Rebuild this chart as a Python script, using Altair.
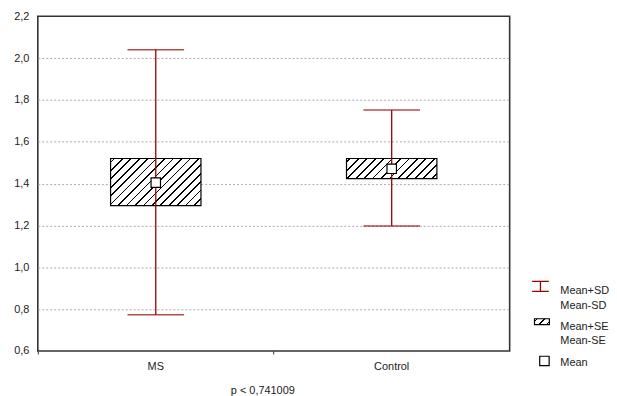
import altair as alt
import pandas as pd

groups = ["MS", "Control"]
means = [1.405, 1.471]
se_low = [1.295, 1.424]
se_high = [1.52, 1.52]
sd_low = [0.773, 1.197]
sd_high = [2.04, 1.752]
y_ticks = [0.6, 0.8, 1.0, 1.2, 1.4, 1.6, 1.8, 2.0, 2.2]
legend_labels = ["Mean+SD\nMean-SD", "Mean+SE\nMean-SE", "Mean"]
x_title = "p < 0,741009"

W, H = 475, 337
Y0, Y1 = 0.6, 2.2
BOX_W = 91
RED = "#990000"
FONT = "Liberation Sans"

df = pd.DataFrame({"group": groups, "mean": means, "se_low": se_low,
                   "se_high": se_high, "sd_low": sd_low, "sd_high": sd_high})


def hatch(w, h, p=8.5, lw=1.7, phase=3.0):
    r = h / w
    a = (1 + r) / (1 + r * r)
    total = w + h
    stops = [alt.GradientStop(offset=0, color="white")]
    k = 0
    while True:
        s = (k * p + phase) / total
        e = s + lw / total
        if e >= 1:
            break
        stops += [alt.GradientStop(offset=s, color="white"),
                  alt.GradientStop(offset=s, color="black"),
                  alt.GradientStop(offset=e, color="black"),
                  alt.GradientStop(offset=e, color="white")]
        k += 1
    stops.append(alt.GradientStop(offset=1, color="white"))
    return alt.LinearGradient(gradient="linear", stops=stops,
                              x1=0, y1=0, x2=a, y2=a * r)


xenc = alt.X("group:N", sort=groups,
             scale=alt.Scale(paddingInner=0, paddingOuter=0),
             axis=alt.Axis(title=x_title, labelAngle=0, bandPosition=0,
                           domain=False, ticks=True, tickSize=3, tickColor="#333",
                           labelPadding=7, gridDash=[2, 2], gridColor="#aaa",
                           gridOpacity={"condition": {"test": "datum.value == 'MS'", "value": 0}, "value": 1},
                           titleX=226, titleY=40, titleBaseline="middle",
                           titleFontWeight="normal"))
yscale = alt.Scale(domain=[Y0, Y1], nice=False, zero=False)
yaxis = alt.Axis(title=None, values=y_ticks, domain=False, ticks=False,
                 labelPadding=9, gridDash=[2, 2], gridColor="#aaa",
                 gridOpacity={"condition": {"test": "datum.value <= 0.61 || datum.value >= 2.19", "value": 0}, "value": 1},
                 labelExpr="replace(format(datum.value, '.1f'), '.', ',')")

base = alt.Chart(df)

layers = []
for i, g in enumerate(groups):
    hpx = (se_high[i] - se_low[i]) / (Y1 - Y0) * H
    layers.append(
        base.transform_filter(alt.datum.group == g)
        .mark_bar(size=BOX_W, fill=hatch(BOX_W, hpx), stroke="black", strokeWidth=1.2)
        .encode(x=xenc, y=alt.Y("se_low:Q", scale=yscale, axis=yaxis), y2="se_high:Q")
    )

rule = base.mark_rule(color=RED, strokeWidth=1.3).encode(
    x=xenc, y=alt.Y("sd_low:Q", scale=yscale, axis=yaxis), y2="sd_high:Q")
cap_hi = base.mark_tick(color=RED, size=57, thickness=1.5).encode(
    x=xenc, y=alt.Y("sd_high:Q", scale=yscale, axis=yaxis))
cap_lo = base.mark_tick(color=RED, size=57, thickness=1.5).encode(
    x=xenc, y=alt.Y("sd_low:Q", scale=yscale, axis=yaxis))
pt = base.mark_square(filled=True, fill="white", stroke="black", strokeWidth=1.2,
                      size=90, opacity=1).encode(
    x=xenc, y=alt.Y("mean:Q", scale=yscale, axis=yaxis))

# legend
ld = [alt.Chart(pd.DataFrame({"label": [lab]})) for lab in legend_labels]
leg_sd = ld[0].mark_point(shape="M-1,-0.6H1M0,-0.6V0.6M-1,0.6H1", filled=False,
                          stroke=RED, strokeWidth=1.3, size=280, opacity=1).encode(
    x=alt.value(506), y=alt.value(272))
leg_se = ld[1].mark_rect(fill=hatch(15, 6, p=7.5, lw=1.6, phase=2), stroke="black",
                         strokeWidth=1.2).encode(
    x=alt.value(500), x2=alt.value(515), y=alt.value(304.5), y2=alt.value(310.5))
leg_mean = ld[2].mark_square(filled=True, fill="white", stroke="black", strokeWidth=1.2,
                             size=90, opacity=1).encode(x=alt.value(510), y=alt.value(347))
txt = []
for i, yv in enumerate([277, 312.5, 349]):
    txt.append(ld[i].mark_text(align="left", baseline="middle", lineBreak="\n",
                               lineHeight=14.5, font=FONT, fontSize=11, color="#222").encode(
        x=alt.value(526), y=alt.value(yv), text="label:N"))

chart = alt.layer(*layers, rule, cap_hi, cap_lo, pt, leg_sd, leg_se, leg_mean, *txt).properties(
    width=W, height=H,
    autosize=alt.AutoSizeParams(type="none"),
    padding={"left": 30, "top": 7, "right": 100, "bottom": 44},
).configure_view(stroke="#333", strokeWidth=1.6).configure_axis(
    labelFont=FONT, labelFontSize=11, labelColor="#222",
    titleFont=FONT, titleFontSize=11, titleColor="#222",
)

chart.save("out.html", embed_options={"renderer": "svg", "actions": False})
